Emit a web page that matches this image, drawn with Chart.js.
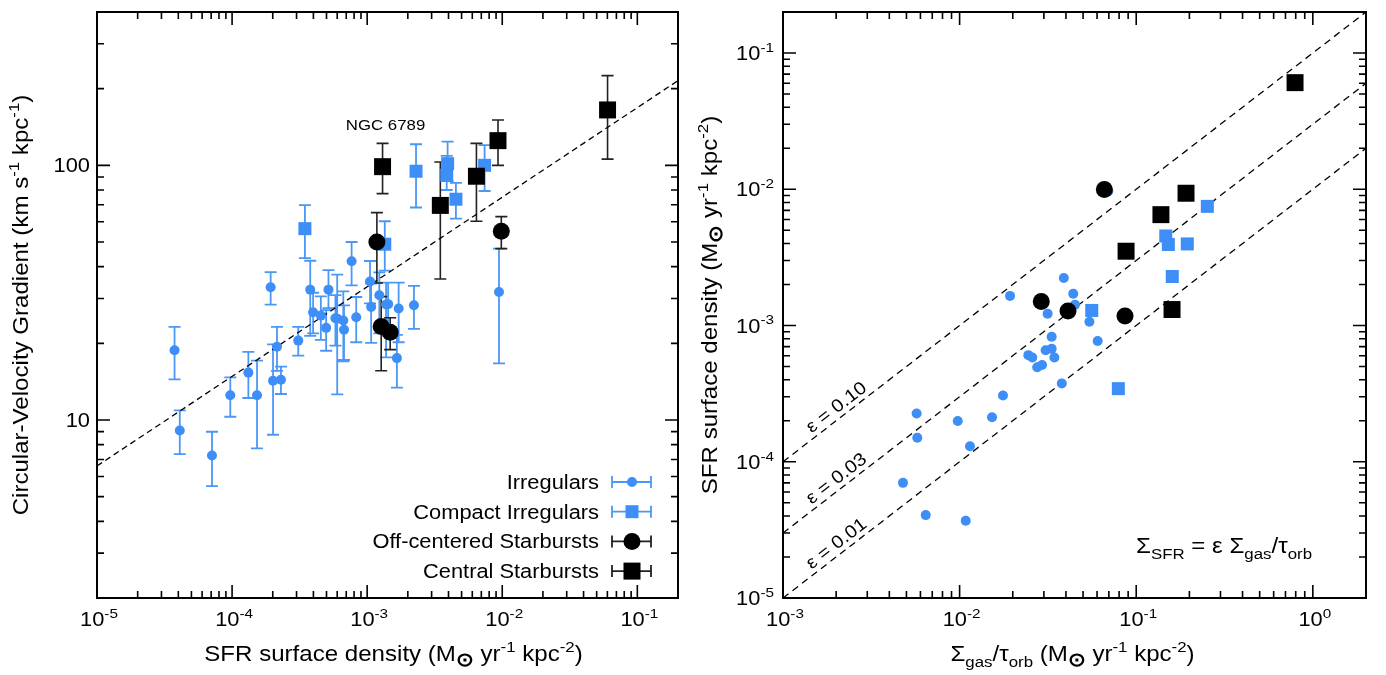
<!DOCTYPE html>
<html>
<head>
<meta charset="utf-8">
<script src="https://cdn.jsdelivr.net/npm/chart.js@4.4.1/dist/chart.umd.min.js"></script>
<style>
  body { margin: 0; background: #fff; }
  .panel { position: absolute; top: 0; height: 675px; }
  #leftBox { left: 0; width: 690px; }
  #rightBox { left: 690px; width: 696px; }
</style>
</head>
<body>
<div class="panel" id="leftBox"><canvas id="leftChart"></canvas></div>
<div class="panel" id="rightBox"><canvas id="rightChart"></canvas></div>
<script>
// ------------------ Left panel data: gradient vs SFR density ------------------
const irrX  = [3.75e-5, 4.1e-5, 7.1e-5, 9.7e-5, 1.32e-4, 1.53e-4, 1.93e-4, 2.01e-4, 2.15e-4, 2.3e-4, 3.09e-4, 3.79e-4, 3.98e-4, 4.54e-4, 4.97e-4, 5.17e-4, 5.82e-4, 6.0e-4, 6.66e-4, 6.74e-4, 7.67e-4, 8.3e-4, 1.05e-3, 1.07e-3, 1.23e-3, 1.38e-3, 1.43e-3, 1.71e-3, 1.66e-3, 2.22e-3, 9.46e-3];
const irrY  = [18.8, 9.1, 7.25, 12.5, 15.35, 12.5, 33.2, 14.25, 19.4, 14.4, 20.5, 32.5, 26.5, 25.7, 23.0, 32.5, 25.1, 25.0, 24.6, 22.6, 42, 25.3, 35, 27.8, 30.9, 28.4, 28.5, 27.4, 17.5, 28.2, 31.8];
const irrHi = [23.2, 10.9, 8.99, 14.7, 18.5, 17.1, 38.1, 19.8, 23.2, 16.2, 23.2, 42.2, 31.6, 30.6, 27.0, 38.8, 30.9, 37.2, 32.0, 28.2, 50, 30.4, 42.1, 34.3, 38, 34.6, 34.6, 34.6, 21.6, 33.6, 47.1];
const irrLo = [14.45, 7.34, 5.5, 10.3, 12.2, 7.74, 28.4, 8.75, 15.6, 12.65, 17.9, 21.4, 21.9, 20.65, 18.7, 27.5, 19.6, 12.6, 17.0, 17.2, 33.8, 20.2, 28.7, 20.1, 21.9, 17.6, 21.9, 20.2, 13.4, 22.8, 16.7];

const cirrX  = [3.46e-4, 1.35e-3, 2.3e-3, 3.94e-3, 3.88e-3, 4.54e-3, 7.4e-3];
const cirrY  = [56.4, 49, 94.8, 101.5, 91.5, 73.6, 100];
const cirrHi = [69.8, 60.3, 121, 124, 109, 85.4, 120];
const cirrLo = [43.2, 38.6, 68.3, 86.7, 80, 61.8, 79.3];

const offX  = [1.18e-3, 1.27e-3, 1.48e-3, 9.84e-3];
const offY  = [50, 23.3, 22.1, 55.1];
const offHi = [65.2, 30.5, 25.2, 62.9];
const offLo = [34.5, 15.6, 18.9, 47.1];

const cenX  = [1.3e-3, 3.48e-3, 6.44e-3, 9.3e-3, 0.0602];
const cenY  = [98.8, 69.6, 90.6, 125, 165];
const cenHi = [122, 103, 122, 150.7, 225];
const cenLo = [77.4, 35.8, 60.3, 100, 105.8];

const fitX = [1e-5, 0.2];
const fitY = [6.6, 215];

const leftXTicks = [1e-5, 1e-4, 1e-3, 1e-2, 1e-1];
const leftXExp   = ['-5', '-4', '-3', '-2', '-1'];
const leftYTicks = [10, 100];
const leftYLabels = ['10', '100'];

const legendNames = ['Irregulars', 'Compact Irregulars', 'Off-centered Starbursts', 'Central Starbursts'];

// ------------------ Right panel data: SFR vs gas / orbital time ------------------
const rIrrX = [0.0193, 0.0389, 0.0315, 0.044, 0.045, 0.0332, 0.0245, 0.0258, 0.0307, 0.0332, 0.0344, 0.0275, 0.0293, 0.0379, 0.0176, 0.01526, 9.76e-3, 5.71e-3, 5.76e-3, 0.01145, 4.78e-3, 6.43e-3, 0.01083, 0.0695, 0.0543, 0.0605];
const rIrrY = [1.65e-3, 2.23e-3, 1.22e-3, 1.71e-3, 1.42e-3, 8.28e-4, 6.06e-4, 5.83e-4, 6.59e-4, 6.74e-4, 5.83e-4, 4.94e-4, 5.13e-4, 3.76e-4, 3.06e-4, 2.12e-4, 1.99e-4, 2.26e-4, 1.5e-4, 1.3e-4, 7.0e-5, 4.06e-5, 3.69e-5, 9.67e-3, 1.064e-3, 7.7e-4];
const rCirrX = [0.2527, 0.147, 0.152, 0.1946, 0.16, 0.056, 0.0792];
const rCirrY = [7.49e-3, 4.54e-3, 3.93e-3, 3.97e-3, 2.29e-3, 1.29e-3, 3.44e-4];
const rOffX = [0.029, 0.0411, 0.066, 0.0864];
const rOffY = [1.5e-3, 1.28e-3, 9.95e-3, 1.175e-3];
const rCenX = [0.793, 0.1914, 0.138, 0.0876, 0.1595];
const rCenY = [0.0606, 9.35e-3, 6.51e-3, 3.51e-3, 1.31e-3];

const epsValues = [0.10, 0.03, 0.01];
const epsLabels = ['0.10', '0.03', '0.01'];
const epsLineX = [1e-3, 2];

const rightXTicks = [1e-3, 1e-2, 1e-1, 1];
const rightXExp   = ['-3', '-2', '-1', '0'];
const rightYTicks = [1e-5, 1e-4, 1e-3, 1e-2, 1e-1];
const rightYExp   = ['-5', '-4', '-3', '-2', '-1'];

// ------------------ Styles ------------------
const BLUE = '#3d8ef6';
const BLUE_BAR = '#4b97f6';
const BLACK = '#000';
const FONT = '"Liberation Sans", Arial, Helvetica, sans-serif';
const SX = 1.12; // text is a bit wide in the original
const FS = 19.5;   // tick labels, legend
const FT = 21.5;   // axis titles

function pts(xs, ys) {
    return xs.map((x, i) => ({ x: x, y: ys[i] }));
}

// ------------------ Rich text helper (sup / sub / sun) ------------------
function partSize(p, size) {
    if (p[1] === 'sun') return size * 0.9;
    return p[1] ? size * 0.7 : size;
}
function richWidth(ctx, parts, size) {
    let w = 0;
    parts.forEach((p) => {
        ctx.font = partSize(p, size) + 'px ' + FONT;
        w += ctx.measureText(p[0]).width;
    });
    return w;
}
function drawRich(ctx, parts, x, y, size, align, rot) {
    ctx.save();
    ctx.translate(x, y);
    if (rot) ctx.rotate(rot);
    ctx.scale(SX, 1);
    ctx.fillStyle = '#000';
    ctx.textAlign = 'left';
    ctx.textBaseline = 'alphabetic';
    const w = richWidth(ctx, parts, size);
    let cx = align === 'center' ? -w / 2 : (align === 'right' ? -w : 0);
    parts.forEach((p) => {
        let dy = 0;
        if (p[1] === 'sup') dy = -size * 0.42;
        if (p[1] === 'sub') dy = size * 0.28;
        if (p[1] === 'sun') dy = size * 0.24;
        ctx.font = (p[1] === 'sun' ? 'bold ' : '') + partSize(p, size) + 'px ' + FONT;
        ctx.fillText(p[0], cx, dy);
        cx += ctx.measureText(p[0]).width;
    });
    ctx.restore();
}

// ------------------ Frame and inward log ticks ------------------
function drawFrame(chart) {
    const ctx = chart.ctx;
    const a = chart.chartArea;
    const xs = chart.scales.x, ys = chart.scales.y;
    ctx.save();
    ctx.strokeStyle = '#000';
    ctx.lineWidth = 2;
    ctx.strokeRect(a.left, a.top, a.right - a.left, a.bottom - a.top);
    ctx.lineWidth = 1.6;
    ctx.beginPath();
    [xs, ys].forEach((s) => {
        const lo = Math.floor(Math.log10(s.min)), hi = Math.ceil(Math.log10(s.max));
        for (let n = lo; n <= hi; n++) {
            for (let k = 1; k <= 9; k++) {
                const v = k * Math.pow(10, n);
                if (v < s.min * 0.999 || v > s.max * 1.001) continue;
                const len = k === 1 ? 13 : 7;
                const p = s.getPixelForValue(v);
                if (s === xs) {
                    ctx.moveTo(p, a.bottom); ctx.lineTo(p, a.bottom - len);
                    ctx.moveTo(p, a.top); ctx.lineTo(p, a.top + len);
                } else {
                    ctx.moveTo(a.left, p); ctx.lineTo(a.left + len, p);
                    ctx.moveTo(a.right, p); ctx.lineTo(a.right - len, p);
                }
            }
        }
    });
    ctx.stroke();
    ctx.restore();
}

function drawErrorBars(chart, xs, ys, lo, hi, color, width) {
    const ctx = chart.ctx;
    const sx = chart.scales.x, sy = chart.scales.y;
    ctx.save();
    ctx.strokeStyle = color;
    ctx.lineWidth = width;
    ctx.beginPath();
    xs.forEach((x, i) => {
        const px = sx.getPixelForValue(x);
        const p1 = sy.getPixelForValue(hi[i]);
        const p2 = sy.getPixelForValue(lo[i]);
        ctx.moveTo(px, p1); ctx.lineTo(px, p2);
        ctx.moveTo(px - 6, p1); ctx.lineTo(px + 6, p1);
        ctx.moveTo(px - 6, p2); ctx.lineTo(px + 6, p2);
    });
    ctx.stroke();
    ctx.restore();
}

function logScale(min, max) {
    return { type: 'logarithmic', min: min, max: max, display: false };
}

const baseOptions = (padding, xr, yr) => ({
    responsive: true,
    maintainAspectRatio: false,
    animation: false,
    layout: { padding: padding },
    plugins: { legend: { display: false }, tooltip: { enabled: false } },
    scales: { x: logScale(xr[0], xr[1]), y: logScale(yr[0], yr[1]) },
});

const unitParts = [[' (M', ''], ['\u2299', 'sun'], [' yr', ''], ['-1', 'sup'], [' kpc', ''], ['-2', 'sup'], [')', '']];

// ------------------ Left chart ------------------
const leftPlugin = {
    id: 'leftDecor',
    beforeDatasetsDraw(chart) {
        drawErrorBars(chart, irrX, irrY, irrLo, irrHi, BLUE_BAR, 1.8);
        drawErrorBars(chart, cirrX, cirrY, cirrLo, cirrHi, BLUE_BAR, 1.8);
        drawErrorBars(chart, offX, offY, offLo, offHi, '#222', 1.6);
        drawErrorBars(chart, cenX, cenY, cenLo, cenHi, '#222', 1.6);
    },
    afterDraw(chart) {
        const ctx = chart.ctx;
        const a = chart.chartArea;
        const sx = chart.scales.x, sy = chart.scales.y;
        drawFrame(chart);
        leftXTicks.forEach((v, i) => {
            drawRich(ctx, [['10', ''], [leftXExp[i], 'sup']], sx.getPixelForValue(v) + 2, a.bottom + 28, FS, 'center');
        });
        leftYTicks.forEach((v, i) => {
            drawRich(ctx, [[leftYLabels[i], '']], a.left - 7, sy.getPixelForValue(v) + 7, FS, 'right');
        });
        drawRich(ctx, [['SFR surface density', '']].concat(unitParts),
            (a.left + a.right) / 2 + 6, a.bottom + 63, FT, 'center');
        drawRich(ctx, [['Circular-Velocity Gradient (km s', ''], ['-1', 'sup'], [' kpc', ''], ['-1', 'sup'], [')', '']],
            a.left - 69, (a.top + a.bottom) / 2, FT, 'center', -Math.PI / 2);
        // label over the first central starburst
        drawRich(ctx, [['NGC 6789', '']], sx.getPixelForValue(cenX[0]) + 3, sy.getPixelForValue(cenHi[0]) - 13, 15, 'center');

        // legend
        const styles = [
            { c: BLUE, bar: BLUE_BAR, shape: 'circle', r: 5 },
            { c: BLUE, bar: BLUE_BAR, shape: 'rect', r: 6.5 },
            { c: BLACK, bar: '#222', shape: 'circle', r: 8.5 },
            { c: BLACK, bar: '#222', shape: 'rect', r: 8.5 },
        ];
        legendNames.forEach((name, i) => {
            const yy = a.bottom - 116 + i * 29.7;
            const tx = a.right - 79;
            drawRich(ctx, [[name, '']], tx, yy + 7, FS, 'right');
            const s = styles[i];
            const x0 = tx + 13, x1 = tx + 52, mx = tx + 33;
            ctx.save();
            ctx.strokeStyle = s.bar;
            ctx.lineWidth = 1.8;
            ctx.beginPath();
            ctx.moveTo(x0, yy); ctx.lineTo(x1, yy);
            ctx.moveTo(x0, yy - 6); ctx.lineTo(x0, yy + 6);
            ctx.moveTo(x1, yy - 6); ctx.lineTo(x1, yy + 6);
            ctx.stroke();
            ctx.fillStyle = s.c;
            if (s.shape === 'circle') {
                ctx.beginPath();
                ctx.arc(mx, yy, s.r, 0, Math.PI * 2);
                ctx.fill();
            } else {
                ctx.fillRect(mx - s.r, yy - s.r, 2 * s.r, 2 * s.r);
            }
            ctx.restore();
        });
    },
};

new Chart(document.getElementById('leftChart'), {
    type: 'scatter',
    data: {
        datasets: [
            { label: 'fit', type: 'line', data: pts(fitX, fitY), borderColor: '#000', borderWidth: 1.3, borderDash: [6, 4], pointRadius: 0, order: 9 },
            { label: legendNames[0], data: pts(irrX, irrY), pointStyle: 'circle', pointRadius: 5, backgroundColor: BLUE, borderWidth: 0, order: 4 },
            { label: legendNames[1], data: pts(cirrX, cirrY), pointStyle: 'rect', pointRadius: 9.2, backgroundColor: BLUE, borderWidth: 0, order: 3 },
            { label: legendNames[2], data: pts(offX, offY), pointStyle: 'circle', pointRadius: 8.5, backgroundColor: BLACK, borderWidth: 0, order: 2 },
            { label: legendNames[3], data: pts(cenX, cenY), pointStyle: 'rect', pointRadius: 12, backgroundColor: BLACK, borderWidth: 0, order: 1 },
        ],
    },
    options: baseOptions({ left: 97, top: 5, right: 8, bottom: 77 }, [1e-5, 0.2], [2, 400]),
    plugins: [leftPlugin],
});

// ------------------ Right chart ------------------
const rightPlugin = {
    id: 'rightDecor',
    afterDraw(chart) {
        const ctx = chart.ctx;
        const a = chart.chartArea;
        const sx = chart.scales.x, sy = chart.scales.y;
        drawFrame(chart);
        rightXTicks.forEach((v, i) => {
            drawRich(ctx, [['10', ''], [rightXExp[i], 'sup']], sx.getPixelForValue(v) + 2, a.bottom + 28, FS, 'center');
        });
        rightYTicks.forEach((v, i) => {
            drawRich(ctx, [['10', ''], [rightYExp[i], 'sup']], a.left - 9, sy.getPixelForValue(v) + 7, FS, 'right');
        });
        drawRich(ctx, [['\u03A3', ''], ['gas', 'sub'], ['/\u03C4', ''], ['orb', 'sub']].concat(unitParts),
            (a.left + a.right) / 2 - 2, a.bottom + 63, FT, 'center');
        drawRich(ctx, [['SFR surface density', '']].concat(unitParts),
            a.left - 66, (a.top + a.bottom) / 2, FT, 'center', -Math.PI / 2);
        // efficiency labels along the dashed lines
        epsValues.forEach((e, i) => {
            const x1 = sx.getPixelForValue(epsLineX[0]), y1 = sy.getPixelForValue(e * epsLineX[0]);
            const x2 = sx.getPixelForValue(epsLineX[1]), y2 = sy.getPixelForValue(e * epsLineX[1]);
            const ang = Math.atan2(y2 - y1, x2 - x1);
            const px = sx.getPixelForValue(2.25e-3), py = sy.getPixelForValue(e * 2.25e-3);
            const ox = px + Math.sin(ang) * 9, oy = py - Math.cos(ang) * 9;
            drawRich(ctx, [['\u03B5 = ' + epsLabels[i], '']], ox, oy + 5, 18, 'center', ang);
        });
        drawRich(ctx, [['\u03A3', ''], ['SFR', 'sub'], [' = \u03B5 \u03A3', ''], ['gas', 'sub'], ['/\u03C4', ''], ['orb', 'sub']],
            a.left + 353, a.bottom - 45, FT, 'left');
    },
};

const epsSets = epsValues.map((e) => ({
    label: 'eps ' + e,
    type: 'line',
    data: epsLineX.map((x) => ({ x: x, y: e * x })),
    borderColor: '#000', borderWidth: 1.3, borderDash: [7, 5], pointRadius: 0, order: 9,
}));

new Chart(document.getElementById('rightChart'), {
    type: 'scatter',
    data: {
        datasets: epsSets.concat([
            { label: legendNames[0], data: pts(rIrrX, rIrrY), pointStyle: 'circle', pointRadius: 5, backgroundColor: BLUE, borderWidth: 0, order: 4 },
            { label: legendNames[1], data: pts(rCirrX, rCirrY), pointStyle: 'rect', pointRadius: 9.2, backgroundColor: BLUE, borderWidth: 0, order: 3 },
            { label: legendNames[2], data: pts(rOffX, rOffY), pointStyle: 'circle', pointRadius: 8.5, backgroundColor: BLACK, borderWidth: 0, order: 2 },
            { label: legendNames[3], data: pts(rCenX, rCenY), pointStyle: 'rect', pointRadius: 12, backgroundColor: BLACK, borderWidth: 0, order: 1 },
        ]),
    },
    options: baseOptions({ left: 93, top: 5, right: 20, bottom: 77 }, [1e-3, 2], [1e-5, 0.2]),
    plugins: [rightPlugin],
});
</script>
</body>
</html>
